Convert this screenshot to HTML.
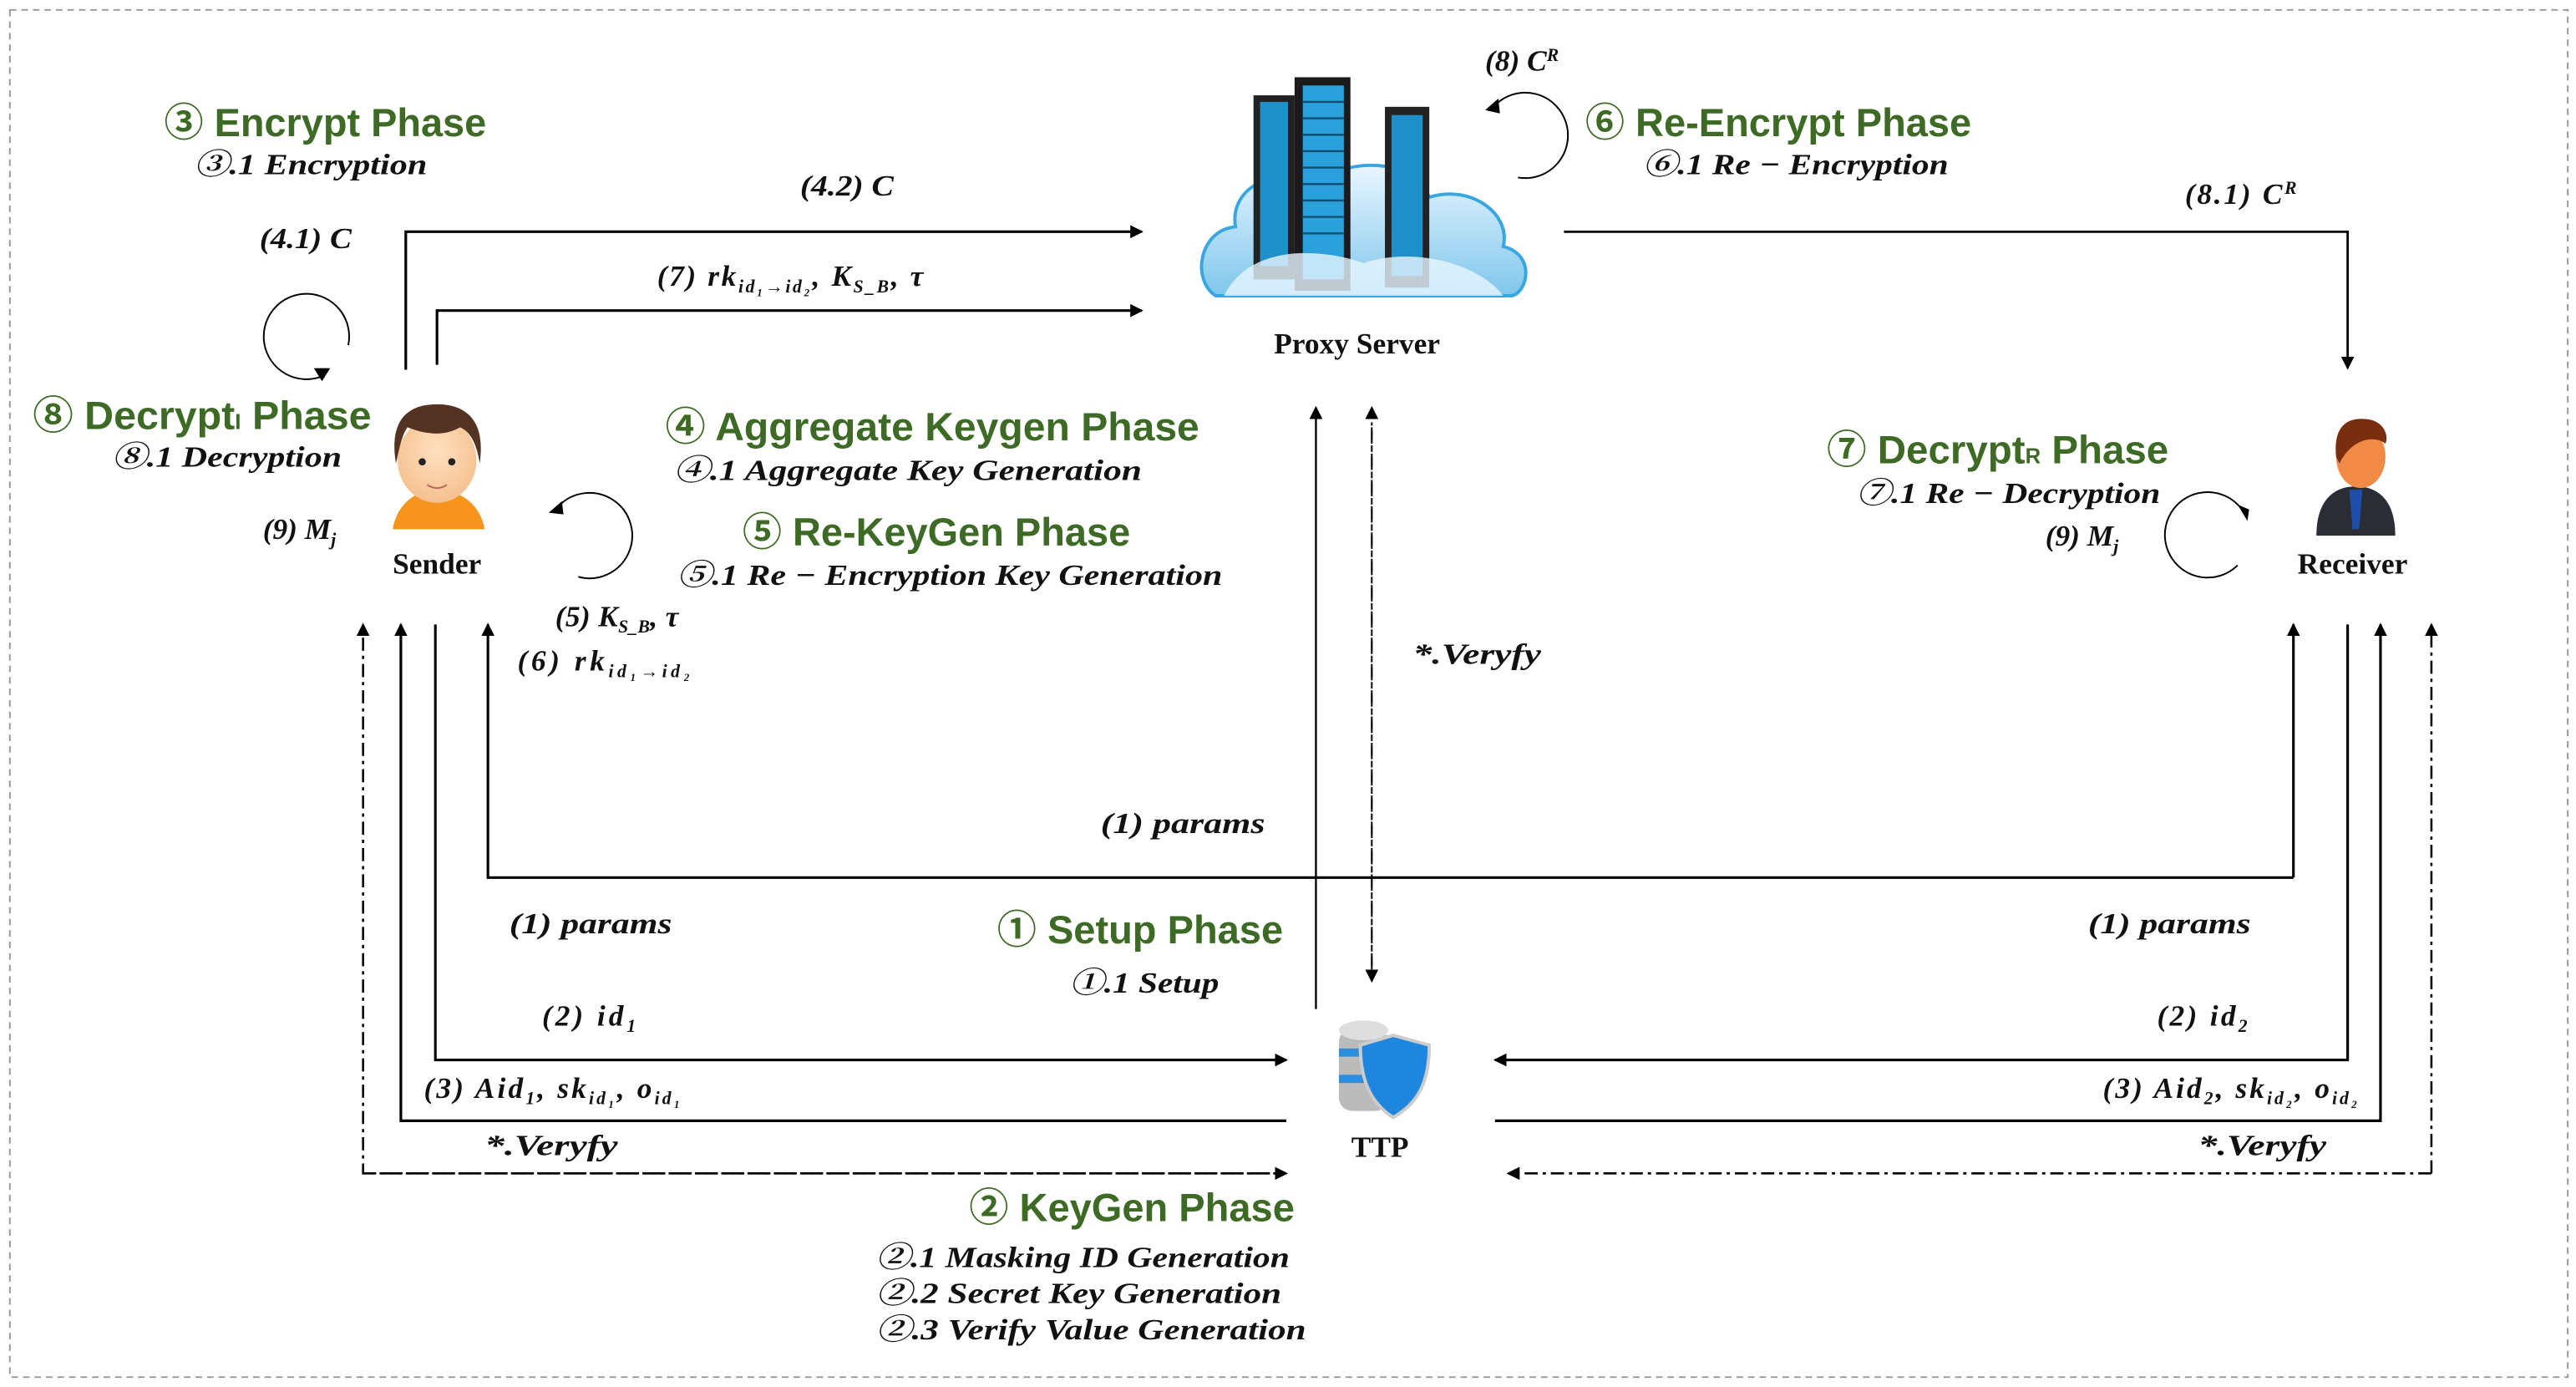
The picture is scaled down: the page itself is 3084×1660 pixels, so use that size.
<!DOCTYPE html>
<html><head><meta charset="utf-8"><style>
html,body{margin:0;padding:0;background:#fff;}
svg{display:block}
.t{font-family:"Liberation Sans","Noto Sans CJK KR",sans-serif;font-weight:bold;font-size:24px;fill:#3d6b25}
.s{font-family:"Liberation Serif","Noto Serif CJK SC",serif;font-style:italic;font-weight:bold;font-size:18px;fill:#111}
.n{font-family:"Liberation Serif",serif;font-weight:bold;font-size:18px;fill:#111}
.sub{font-size:11px}
</style></head><body>
<svg width="3084" height="1660" viewBox="0 0 1568 844" xmlns="http://www.w3.org/2000/svg">
<defs>
<marker id="a" markerWidth="8" markerHeight="8" refX="7" refY="4" orient="auto" markerUnits="userSpaceOnUse"><path d="M0,0 L8,4 L0,8 z" fill="#000"/></marker>
<radialGradient id="sk" cx="50%" cy="40%" r="60%"><stop offset="0" stop-color="#ffe0c0"/><stop offset="1" stop-color="#f5c08e"/></radialGradient>
<linearGradient id="cl" x1="0" y1="0" x2="0" y2="1"><stop offset="0" stop-color="#e8f6ff"/><stop offset="1" stop-color="#7fc6ec"/></linearGradient>
</defs>
<rect x="6" y="6" width="1557" height="832" fill="none" stroke="#999" stroke-dasharray="4,3" stroke-width="1"/>

<g stroke="#000" stroke-width="1.6" fill="none">
<polyline points="247,225 247,141 695,141" marker-end="url(#a)"/>
<polyline points="266,222 266,189 695,189" marker-end="url(#a)"/>
<polyline points="952,141 1429,141 1429,224" stroke-width="1.4" marker-end="url(#a)"/>
<line x1="801" y1="614" x2="801" y2="248" stroke-width="1.2" marker-end="url(#a)"/>
<line x1="835" y1="590" x2="835" y2="248" stroke-width="1" stroke-dasharray="8,3,2,3" marker-end="url(#a)"/>
<line x1="835" y1="260" x2="835" y2="597" stroke-width="1" stroke-dasharray="8,3,2,3" marker-end="url(#a)"/>
<polyline points="1396,534 297,534 297,380" marker-end="url(#a)"/>
<line x1="1396" y1="534" x2="1396" y2="380" marker-end="url(#a)"/>
<polyline points="783,714 221,714 221,380" stroke-width="1.3" stroke-dasharray="8,3,2,3" marker-end="url(#a)"/>
<line x1="221" y1="714" x2="783" y2="714" stroke-width="1.3" stroke-dasharray="8,3,2,3" marker-end="url(#a)"/>
<polyline points="783,682 244,682 244,380" marker-end="url(#a)"/>
<polyline points="265,380 265,645 783,645" marker-end="url(#a)"/>
<polyline points="1429,380 1429,645 910,645" marker-end="url(#a)"/>
<polyline points="910,682 1449,682 1449,380" marker-end="url(#a)"/>
<polyline points="1480,714 1480,380" stroke-width="1.3" stroke-dasharray="8,3,2,3" marker-end="url(#a)"/>
<line x1="1480" y1="714" x2="918" y2="714" stroke-width="1.3" stroke-dasharray="8,3,2,3" marker-end="url(#a)"/>
<path d="M196,229 A26,26 0 1 1 212,210" stroke-width="1"/>
<path d="M340,308 A26,26 0 1 1 352,351" stroke-width="1"/>
<path d="M910,64 A26,26 0 1 1 924,108" stroke-width="1"/>
<path d="M1366,312 A26,26 0 1 0 1362,344" stroke-width="1"/>
</g>
<g fill="#000">
<path d="M191,224 L201,224 L196,232 z"/>
<path d="M334,312 L342,305 L343,313 z"/>
<path d="M904,67 L912,60 L913,69 z"/>
<path d="M1362,307 L1369,310 L1368,317 z"/>
</g>

<g>
<path d="M740,180 C725,170 730,140 752,138 C748,112 780,100 800,115 C815,95 860,95 870,120 C895,112 920,130 915,150 C935,155 930,178 920,180 z" fill="url(#cl)" stroke="#38a6e0" stroke-width="2"/>
<rect x="763" y="58" width="25" height="112" fill="#222"/>
<rect x="767" y="62" width="17" height="100" fill="#1e8fc8"/>
<rect x="788" y="47" width="34" height="130" fill="#1b1b1b"/>
<rect x="793" y="52" width="25" height="118" fill="#2aa0dc"/>
<rect x="843" y="65" width="27" height="110" fill="#222"/>
<rect x="847" y="70" width="19" height="98" fill="#1e8fc8"/>
<g stroke="#0c4d70" stroke-width="1.2">
<line x1="793" y1="62" x2="818" y2="62"/><line x1="793" y1="72" x2="818" y2="72"/><line x1="793" y1="82" x2="818" y2="82"/><line x1="793" y1="92" x2="818" y2="92"/><line x1="793" y1="102" x2="818" y2="102"/><line x1="793" y1="112" x2="818" y2="112"/><line x1="793" y1="122" x2="818" y2="122"/><line x1="793" y1="132" x2="818" y2="132"/><line x1="793" y1="142" x2="818" y2="142"/>
</g>
<path d="M745,180 C760,150 800,150 830,160 C860,150 900,160 915,180 z" fill="#e9f6ff" opacity="0.8"/>
</g>
<text class="n" x="826" y="215" text-anchor="middle" font-size="22">Proxy Server</text>

<g>
<path d="M239,322 C242,305 255,298 266,298 C278,298 292,305 295,322 z" fill="#f7941d"/>
<ellipse cx="266" cy="280" rx="24" ry="26" fill="url(#sk)"/>
<path d="M241,282 C236,252 252,246 266,246 C282,246 296,254 292,282 C290,268 285,262 280,260 C270,266 258,264 248,260 C244,266 243,274 241,282 z" fill="#553322"/>
<circle cx="257" cy="281" r="2.2" fill="#222"/><circle cx="275" cy="281" r="2.2" fill="#222"/>
<path d="M260,295 Q266,299 272,295" stroke="#b66" fill="none"/>
</g>
<text class="n" x="266" y="349" text-anchor="middle">Sender</text>

<g>
<path d="M1410,326 C1410,305 1420,296 1434,296 C1448,296 1458,305 1458,326 z" fill="#2a2d33"/>
<path d="M1430,298 L1438,298 L1436,322 L1432,322 z" fill="#1d4fa8"/>
<ellipse cx="1437" cy="278" rx="15" ry="19" fill="#f08a45"/>
<path d="M1422,278 C1420,258 1430,254 1440,255 C1452,256 1454,266 1452,270 C1446,265 1432,266 1424,282 z" fill="#7a2e10"/>
</g>
<text class="n" x="1432" y="349" text-anchor="middle">Receiver</text>

<g>
<rect x="815" y="626" width="30" height="50" rx="8" fill="#bbb"/>
<ellipse cx="830" cy="627" rx="15" ry="6" fill="#ddd"/>
<rect x="815" y="638" width="30" height="5" fill="#2a8fe0"/>
<rect x="815" y="654" width="30" height="5" fill="#2a8fe0"/>
<path d="M848,630 L870,636 C870,660 862,672 848,680 C836,672 828,660 828,636 z" fill="#1f86e0" stroke="#ccc" stroke-width="2"/>
</g>
<text class="n" x="840" y="704" text-anchor="middle">TTP</text>

<text class="t" x="100" y="83" textLength="196" lengthAdjust="spacingAndGlyphs">③ Encrypt Phase</text>
<text class="s" x="118" y="106" textLength="142" lengthAdjust="spacingAndGlyphs">③.1 Encryption</text>
<text class="t" x="20" y="261" textLength="206" lengthAdjust="spacingAndGlyphs">⑧ Decrypt<tspan font-size="13">I</tspan> Phase</text>
<text class="s" x="68" y="284" textLength="140" lengthAdjust="spacingAndGlyphs">⑧.1 Decryption</text>
<text class="t" x="405" y="268" textLength="325" lengthAdjust="spacingAndGlyphs">④ Aggregate Keygen Phase</text>
<text class="s" x="410" y="292" textLength="285" lengthAdjust="spacingAndGlyphs">④.1 Aggregate Key Generation</text>
<text class="t" x="452" y="332" textLength="236" lengthAdjust="spacingAndGlyphs">⑤ Re-KeyGen Phase</text>
<text class="s" x="412" y="356" textLength="332" lengthAdjust="spacingAndGlyphs">⑤.1 Re − Encryption Key Generation</text>
<text class="t" x="965" y="83" textLength="235" lengthAdjust="spacingAndGlyphs">⑥ Re-Encrypt Phase</text>
<text class="s" x="1000" y="106" textLength="186" lengthAdjust="spacingAndGlyphs">⑥.1 Re − Encryption</text>
<text class="t" x="1112" y="282" textLength="208" lengthAdjust="spacingAndGlyphs">⑦ Decrypt<tspan font-size="13">R</tspan> Phase</text>
<text class="s" x="1130" y="306" textLength="185" lengthAdjust="spacingAndGlyphs">⑦.1 Re − Decryption</text>
<text class="t" x="607" y="574" textLength="174" lengthAdjust="spacingAndGlyphs">① Setup Phase</text>
<text class="s" x="651" y="604" textLength="91" lengthAdjust="spacingAndGlyphs">①.1 Setup</text>
<text class="t" x="590" y="743" textLength="198" lengthAdjust="spacingAndGlyphs">② KeyGen Phase</text>
<text class="s" x="533" y="771" textLength="252" lengthAdjust="spacingAndGlyphs">②.1 Masking ID Generation</text>
<text class="s" x="533" y="793" textLength="247" lengthAdjust="spacingAndGlyphs">②.2  Secret Key Generation</text>
<text class="s" x="533" y="815" textLength="262" lengthAdjust="spacingAndGlyphs">②.3 Verify Value Generation</text>

<text class="s" x="487" y="119" textLength="57" lengthAdjust="spacingAndGlyphs">(4.2) C</text>
<text class="s" x="158" y="151" textLength="56" lengthAdjust="spacingAndGlyphs">(4.1) C</text>
<text class="s" x="400" y="174" textLength="162" lengthAdjust="spacing">(7) rk<tspan class="sub" dy="4">id₁→id₂</tspan><tspan dy="-4">, K</tspan><tspan class="sub" dy="4">S_B</tspan><tspan dy="-4">, τ</tspan></text>
<text class="s" x="160" y="328">(9) M<tspan class="sub" dy="4">j</tspan></text>
<text class="s" x="338" y="381" textLength="75" lengthAdjust="spacing">(5) K<tspan class="sub" dy="4">S_B</tspan><tspan dy="-4">, τ</tspan></text>
<text class="s" x="315" y="408" textLength="105" lengthAdjust="spacing">(6) rk<tspan class="sub" dy="4">id₁→id₂</tspan></text>
<text class="s" x="904" y="43">(8) C<tspan class="sub" dy="-6">R</tspan></text>
<text class="s" x="1330" y="124" textLength="68" lengthAdjust="spacing">(8.1) C<tspan class="sub" dy="-6">R</tspan></text>
<text class="s" x="1245" y="332">(9) M<tspan class="sub" dy="4">j</tspan></text>
<text class="s" x="860" y="404" textLength="78" lengthAdjust="spacingAndGlyphs">*.Veryfy</text>
<text class="s" x="670" y="507" textLength="100" lengthAdjust="spacingAndGlyphs">(1) params</text>
<text class="s" x="310" y="568" textLength="99" lengthAdjust="spacingAndGlyphs">(1) params</text>
<text class="s" x="330" y="624" textLength="57" lengthAdjust="spacing">(2) id<tspan class="sub" dy="4">1</tspan></text>
<text class="s" x="258" y="668" textLength="156" lengthAdjust="spacing">(3) Aid<tspan class="sub" dy="4">1</tspan><tspan dy="-4">, sk</tspan><tspan class="sub" dy="4">id₁</tspan><tspan dy="-4">, o</tspan><tspan class="sub" dy="4">id₁</tspan></text>
<text class="s" x="295" y="703" textLength="81" lengthAdjust="spacingAndGlyphs">*.Veryfy</text>
<text class="s" x="1271" y="568" textLength="99" lengthAdjust="spacingAndGlyphs">(1) params</text>
<text class="s" x="1313" y="624" textLength="55" lengthAdjust="spacing">(2) id<tspan class="sub" dy="4">2</tspan></text>
<text class="s" x="1280" y="668" textLength="155" lengthAdjust="spacing">(3) Aid<tspan class="sub" dy="4">2</tspan><tspan dy="-4">, sk</tspan><tspan class="sub" dy="4">id₂</tspan><tspan dy="-4">, o</tspan><tspan class="sub" dy="4">id₂</tspan></text>
<text class="s" x="1338" y="703" textLength="78" lengthAdjust="spacingAndGlyphs">*.Veryfy</text>
</svg>
</body></html>
